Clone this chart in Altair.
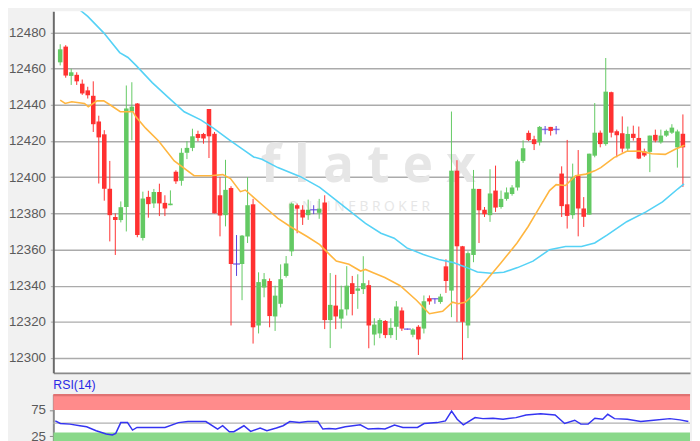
import altair as alt
import pandas as pd

# ---------------- data ----------------
candle_index = list(range(114))
opens = [12463.5, 12472.2, 12456, 12456.6, 12451.7, 12448, 12445, 12430.8, 12423.7, 12393.6,
         12378, 12376.3, 12383.5, 12436.4, 12440.8, 12366.4, 12389.1, 12385.5, 12391.8, 12385.8,
         12384.5, 12403, 12398, 12413.5, 12416.2, 12423.9, 12423.9, 12437.7, 12424, 12390,
         12379, 12394, 12352, 12352, 12367.2, 12385, 12318, 12339, 12342.6, 12323,
         12330, 12345.4, 12359, 12384.5, 12382, 12379, 12382, 12380.3, 12386, 12321,
         12329, 12321.8, 12326.9, 12341.4, 12337.2, 12338.1, 12340.3, 12313, 12313.6, 12320.5,
         12312.7, 12317.3, 12326.3, 12316, 12312.9, 12317.3, 12316.3, 12333.1, 12332.8, 12331,
         12350.7, 12337.3, 12403.6, 12361.8, 12318, 12357, 12393.5, 12382, 12379, 12392.6,
         12383.5, 12388, 12390.7, 12394.3, 12409, 12424.5, 12421, 12419.3, 12426.4, 12427.8,
         12426.4, 12402, 12385, 12379, 12401, 12382.7, 12379.3, 12411.9, 12424.6, 12418.3,
         12447, 12425.4, 12424.3, 12415.8, 12424, 12421.7, 12414.3, 12414, 12423.4, 12419.3,
         12423, 12424.6, 12416.5, 12424]
closes = [12470.7, 12456.2, 12458, 12453, 12446.3, 12445.3, 12429.3, 12422, 12393.6, 12379,
          12376.3, 12383.4, 12438, 12439, 12368.1, 12388.2, 12385.1, 12391.8, 12385.5, 12382.7,
          12385.4, 12397.7, 12413.5, 12416.2, 12422.6, 12421.7, 12421.4, 12422.6, 12380, 12378.8,
          12393, 12352, 12352, 12367.7, 12384.5, 12317, 12342, 12343.6, 12323.2, 12334.5,
          12343.6, 12352.3, 12385.4, 12382.6, 12377.7, 12382, 12382, 12382.6, 12321, 12329.4,
          12323, 12326.9, 12340, 12335.4, 12338.5, 12341.4, 12318, 12318.5, 12321, 12312.7,
          12316.7, 12328.5, 12316.3, 12316, 12315.8, 12310.3, 12331.4, 12331.3, 12332.8, 12334,
          12342.6, 12403.6, 12361.8, 12320, 12358, 12393.6, 12381.7, 12379.5, 12391, 12383.2,
          12388, 12391.6, 12394.3, 12408.8, 12416, 12420.5, 12418.3, 12427.8, 12426.4, 12425.6,
          12426.4, 12384, 12378.6, 12400, 12382.7, 12378.1, 12413, 12424.6, 12418.3, 12447.3,
          12424.6, 12423.2, 12415.8, 12423.9, 12421.7, 12410.3, 12412, 12423, 12420.2, 12423,
          12425.6, 12427.4, 12425.3, 12416.5]
highs = [12473.5, 12473, 12460, 12458, 12454, 12450, 12453, 12434, 12426, 12409,
         12380, 12386.6, 12450.7, 12452.5, 12441, 12392, 12392.5, 12393.5, 12396.4, 12390,
         12392.7, 12403.8, 12416, 12419.9, 12426.8, 12425.7, 12424.5, 12437.7, 12425, 12400,
         12409.6, 12395, 12368, 12368, 12400, 12388, 12347.4, 12347, 12344, 12340,
         12351.8, 12356.4, 12386, 12385.4, 12384.5, 12387.6, 12384.5, 12388, 12390, 12347,
         12346, 12340, 12350.8, 12345.4, 12346.3, 12356.3, 12343, 12322, 12322, 12321,
         12322, 12331.5, 12328, 12316.3, 12316.5, 12318.2, 12334.6, 12334.6, 12332.9, 12335.5,
         12354.6, 12436.3, 12409.4, 12362, 12359, 12404, 12393.5, 12383.5, 12404.4, 12406.4,
         12392.6, 12394.3, 12395.6, 12409.7, 12420.4, 12425.8, 12422.9, 12428.3, 12428.3, 12427.8,
         12428.3, 12406, 12420.6, 12407.5, 12415, 12389, 12413, 12441, 12425.8, 12465.9,
         12447.3, 12426.3, 12433.6, 12428, 12428.5, 12428, 12415.8, 12423, 12426.3, 12426.3,
         12426.3, 12429.3, 12426.3, 12434.7]
lows = [12461.8, 12455, 12451, 12451, 12445.5, 12443.5, 12425, 12396.5, 12387, 12364.5,
        12357, 12375, 12370, 12420.4, 12366.8, 12365, 12377.6, 12383, 12378.5, 12378.5,
        12384.5, 12396.3, 12395.3, 12410, 12414.4, 12419.9, 12418.5, 12410.6, 12380, 12367.3,
        12372.8, 12318, 12345.4, 12332, 12363.6, 12308, 12313.6, 12333.6, 12317, 12315,
        12328, 12344.5, 12356.4, 12369, 12373.6, 12376.4, 12379.6, 12377, 12316, 12305.5,
        12316, 12316.3, 12323.5, 12323.6, 12327.2, 12335.4, 12305.4, 12307, 12311, 12311,
        12311, 12310, 12315, 12315.7, 12311.5, 12301.7, 12313.6, 12329.5, 12330, 12330,
        12336, 12322.6, 12320, 12299, 12311, 12353, 12363.6, 12378, 12375.3, 12380.8,
        12382.6, 12387, 12389.8, 12392.6, 12407.9, 12420, 12415, 12417.5, 12423.7, 12423,
        12423.7, 12378, 12371.6, 12377, 12367.3, 12372.5, 12379.3, 12411, 12416.5, 12417.4,
        12422, 12411, 12413.6, 12414.3, 12420.2, 12410, 12411.2, 12402.8, 12419.3, 12418.5,
        12422.3, 12423.9, 12405.3, 12394.6]

# orange (fast) moving average, position in candle units
ma_fast_x = [0, 0.9, 2.1, 4.4, 5.1, 6.7, 7.9, 9.1, 10.9, 13.2, 13.7, 15.5, 17.9, 20.7, 24.3,
             27.2, 29.5, 30.9, 32.7, 33.6, 35.1, 37.1, 39.5, 41.8, 44.8, 47.1, 48.9, 50.1, 52.4,
             54.5, 55.4, 56.8, 58.9, 61.7, 64.7, 67, 69.4, 71.2, 72.2, 73.5, 75.2, 77.5, 80,
             82.9, 84.9, 86.5, 88.8, 90, 91.7, 93.5, 95.4, 97, 98.1, 100.5, 102.8, 105.1, 107.4,
             109.8, 111.6, 113.3]
ma_fast_y = [12442.6, 12440.8, 12441.7, 12440.8, 12439, 12442.2, 12442.2, 12439.9, 12436.2,
             12436.2, 12433.5, 12427.1, 12419.9, 12409, 12400.8, 12400.8, 12401.4, 12399.2,
             12392, 12392.9, 12388.8, 12383.5, 12377.2, 12372.6, 12367.2, 12362.7, 12357.2,
             12353.6, 12351.8, 12348.1, 12349, 12347.2, 12344.5, 12340, 12331.8, 12324.5,
             12325.8, 12330.9, 12330, 12330.9, 12335.4, 12343.6, 12352.7, 12363.6, 12372.6,
             12380.8, 12392.6, 12395.9, 12395.4, 12400.8, 12401.7, 12403.5, 12405.3, 12410.8,
             12414.3, 12414.4, 12413, 12412.6, 12415.4, 12417.7]
# cyan (slow) moving average
ma_slow_x = [2.1, 5.0, 7.9, 10.8, 12.3, 13.8, 16.7, 19.6, 22.5, 25.5, 27.8, 30.8, 33.6, 35.1,
             36.6, 39.5, 43.6, 47.1, 50.1, 52.4, 55.4, 58.2, 60.6, 62.9, 65.9, 68.7, 71.2, 73.5,
             75.7, 78.2, 80.5, 83, 85.8, 88.8, 91.7, 94.6, 97, 99.3, 102.8, 106.3, 109.3, 112.1,
             113.2]
ma_slow_y = [12496.2, 12488.9, 12479.8, 12468.9, 12466.2, 12461.7, 12452.3, 12444.1, 12436.2,
             12431.7, 12427.1, 12420.4, 12414.4, 12411.2, 12409.9, 12405.3, 12400.3, 12394.4,
             12387.2, 12381.7, 12374.5, 12369, 12366.3, 12360.9, 12357.2, 12354.5, 12352.9,
             12350.4, 12347.6, 12346.9, 12347.4, 12350, 12353.6, 12359.9, 12361.7, 12361.7,
             12363.6, 12368.1, 12375.4, 12380.8, 12386.3, 12393.6, 12396.3]

rsi_x = [0, 0.9, 2.6, 4.4, 5.6, 7.3, 9.1, 10.2, 10.8, 11.7, 12.9, 13.8, 14.6, 16.1, 19.6, 22,
         23.7, 26.9, 29, 29.9, 31.1, 31.9, 33.7, 34.9, 36.6, 37.8, 39.5, 40.7, 41.9, 43.6, 45.1,
         46.9, 47.8, 48.9, 50.1, 51.8, 54.5, 55.9, 57.7, 58.9, 60.6, 62.1, 64.7, 65.9, 68.2,
         69.7, 70.8, 71.8, 72.9, 75, 76.4, 78.2, 80, 82.3, 84.1, 86.7, 89.3, 91, 92.8, 93.9,
         95.2, 96.4, 97.8, 98.7, 99.9, 102.2, 104.6, 106.9, 109.8, 111.6, 113.1]
rsi_y = [54.3, 49.3, 48.1, 45, 43, 35.5, 29.3, 27.4, 30.5, 51, 51, 36.8, 41.7, 41.7, 41.7, 51,
         53, 53, 38.7, 45, 33.6, 33.6, 45, 34.2, 40.6, 35.5, 40.6, 45, 53, 51, 53, 53, 38.7,
         39.9, 38.7, 43, 46.8, 38.7, 39.9, 38.7, 46.2, 41.7, 41.7, 49.3, 51, 54.3, 73, 57.5,
         46.8, 60.5, 58.6, 59.4, 57.5, 60.5, 65.6, 68, 65.6, 49.3, 55.6, 48.1, 48.1, 59.4,
         57.5, 66.9, 58.6, 57.5, 53, 55.6, 58.6, 56.2, 53]

price_ticks = [12300, 12320, 12340, 12360, 12380, 12400, 12420, 12440, 12460, 12480]
rsi_ticks = [25, 75]
over_lo, over_hi = [75], [104.5]
under_lo, under_hi = [10.0], [32]
rsi_mid = [50]
rsi_top = [103.4]

# ---------------- tables ----------------
candles = pd.DataFrame({"i": candle_index, "open": opens, "high": highs,
                        "low": lows, "close": closes})
candles["dir"] = ["up" if c > o else ("down" if c < o else "flat")
                  for o, c in zip(opens, closes)]
fast = pd.DataFrame({"i": ma_fast_x, "p": ma_fast_y})
slow = pd.DataFrame({"i": ma_slow_x, "p": ma_slow_y})
rsi = pd.DataFrame({"i": rsi_x, "v": rsi_y})
over = pd.DataFrame({"lo": over_lo, "hi": over_hi})
under = pd.DataFrame({"lo": under_lo, "hi": under_hi})
mid = pd.DataFrame({"v": rsi_mid})
top = pd.DataFrame({"v": rsi_top})
wm1 = pd.DataFrame({"i": [36.4], "p": [12397.5], "t": ["f l a t e x"]})
wm2 = pd.DataFrame({"i": [41.3], "p": [12383.5], "t": ["O N L I N E  B R O K E R"]})

W = 646
H_MAIN = 367
H_RSI = 50
FONT = "Liberation Sans"

xs = alt.Scale(domain=[-0.35, 113.4], nice=False, zero=False)
ys = alt.Scale(domain=[12291.8, 12491.8], nice=False, zero=False)
rs = alt.Scale(domain=[10.5, 104.5], nice=False, zero=False)
cscale = alt.Scale(domain=["up", "down", "flat"], range=["#63c963", "#ff3131", "#5a3edb"])

x_axis = alt.Axis(labels=False, ticks=False, grid=False, domain=True, domainColor="#8a8a8a",
                  domainWidth=2, title=None)
y_axis = alt.Axis(values=price_ticks, format="d", title=None, grid=True, gridColor="#ababab",
                  gridWidth=1.5, tickSize=3, tickColor="#ababab", labelPadding=5,
                  labelFontSize=13.5, labelColor="#5a5a5a", labelFont=FONT,
                  domainColor="#6a6a6a", domainWidth=2, minExtent=46, maxExtent=46)
r_axis = alt.Axis(values=rsi_ticks, format="d", title=None, grid=False, tickSize=4,
                  tickColor="#8a8a8a", labelPadding=4, labelFontSize=13.5,
                  labelColor="#5a5a5a", labelFont=FONT, domainColor="#8a8a8a",
                  domainWidth=2, minExtent=46, maxExtent=46)


def X(field="i"):
    return alt.X(f"{field}:Q", scale=xs, axis=x_axis)


def Y(field):
    return alt.Y(f"{field}:Q", scale=ys, axis=y_axis)


def R(field):
    return alt.Y(f"{field}:Q", scale=rs, axis=r_axis)


col = alt.Color("dir:N", scale=cscale, legend=None)

t1 = alt.Chart(wm1).mark_text(align="left", baseline="alphabetic", fontSize=52,
                              fontWeight="bold", font="Open Sans", color="#e6e6e6"
                              ).encode(x=X(), y=Y("p"), text="t:N")
t2 = alt.Chart(wm2).mark_text(align="left", baseline="middle", fontSize=14,
                              font="Open Sans", color="#e6e6e6"
                              ).encode(x=X(), y=Y("p"), text="t:N")
wicks = alt.Chart(candles).mark_rule(strokeWidth=1).encode(
    x=X(), y=Y("low"), y2="high:Q", color=col)
bodies = alt.Chart(candles).transform_filter("datum.dir != 'flat'").mark_bar(
    size=4.6, orient="vertical").encode(x=X(), y=Y("open"), y2="close:Q", color=col)
doji = alt.Chart(candles).transform_filter("datum.dir == 'flat'").mark_tick(
    orient="horizontal", size=7, thickness=1.5).encode(x=X(), y=Y("open"), color=col)
slow_line = alt.Chart(slow).mark_line(color="#55d2f6", strokeWidth=1.6, clip=True).encode(
    x=X(), y=Y("p"))
fast_line = alt.Chart(fast).mark_line(color="#ffb640", strokeWidth=1.6, clip=True).encode(
    x=X(), y=Y("p"))

main = alt.layer(t1, t2, wicks, bodies, doji, slow_line, fast_line).properties(
    width=W, height=H_MAIN)

over_rect = alt.Chart(over).mark_rect(color="#ff8b8b").encode(
    x=alt.value(0), x2=alt.value(W), y=R("lo"), y2="hi:Q")
under_rect = alt.Chart(under).mark_rect(color="#8ad88a", clip=True).encode(
    x=alt.value(0), x2=alt.value(W), y=R("lo"), y2="hi:Q")
top_rule = alt.Chart(top).mark_rule(color="#e07272", strokeWidth=2.5).encode(y=R("v"))
mid_rule = alt.Chart(mid).mark_rule(color="#b0b0b0", strokeWidth=1.5).encode(y=R("v"))
rsi_line = alt.Chart(rsi).mark_line(color="#3434f2", strokeWidth=1.5).encode(
    x=alt.X("i:Q", scale=xs, axis=None), y=R("v"))

rsi_panel = alt.layer(over_rect, under_rect, top_rule, mid_rule, rsi_line).properties(
    width=W, height=H_RSI,
    title=alt.TitleParams("RSI(14)", anchor="start", frame="group", fontSize=12.5,
                          fontWeight="normal", color="#2a2ae6", font=FONT, offset=2))

chart = alt.vconcat(main, rsi_panel, spacing=6).properties(
    padding=0, background="#f1f1f1"
).configure_view(stroke=None, fill="white")

chart.save("out.html", embed_options={"renderer": "svg", "actions": False})
